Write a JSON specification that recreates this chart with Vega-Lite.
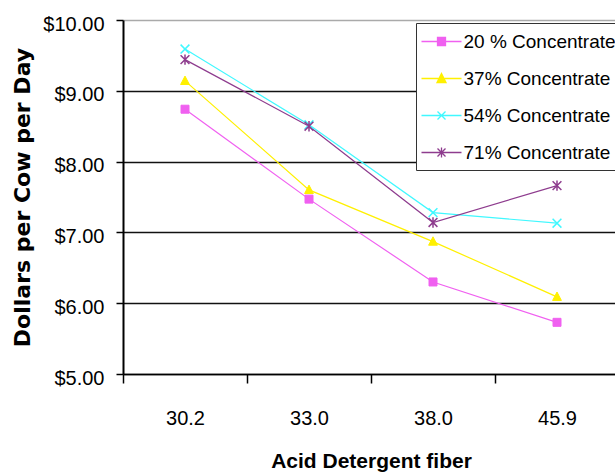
{
  "$schema": "https://vega.github.io/schema/vega-lite/v6.json",
  "width": 492,
  "height": 354,
  "autosize": "none",
  "padding": {"left": 123, "top": 20, "right": 0, "bottom": 102},
  "background": "white",
  "config": {"view": {"stroke": null}, "font": "Liberation Sans"},
  "data": {
    "values": [
      {"adf": "30.2", "conc": "20 % Concentrate", "value": 8.74},
      {"adf": "33.0", "conc": "20 % Concentrate", "value": 7.47},
      {"adf": "38.0", "conc": "20 % Concentrate", "value": 6.30},
      {"adf": "45.9", "conc": "20 % Concentrate", "value": 5.73},
      {"adf": "30.2", "conc": "37% Concentrate", "value": 9.14},
      {"adf": "33.0", "conc": "37% Concentrate", "value": 7.60},
      {"adf": "38.0", "conc": "37% Concentrate", "value": 6.87},
      {"adf": "45.9", "conc": "37% Concentrate", "value": 6.09},
      {"adf": "30.2", "conc": "54% Concentrate", "value": 9.59},
      {"adf": "33.0", "conc": "54% Concentrate", "value": 8.52},
      {"adf": "38.0", "conc": "54% Concentrate", "value": 7.28},
      {"adf": "45.9", "conc": "54% Concentrate", "value": 7.13},
      {"adf": "30.2", "conc": "71% Concentrate", "value": 9.44},
      {"adf": "33.0", "conc": "71% Concentrate", "value": 8.50},
      {"adf": "38.0", "conc": "71% Concentrate", "value": 7.14},
      {"adf": "45.9", "conc": "71% Concentrate", "value": 7.66}
    ]
  },
  "encoding": {
    "x": {
      "field": "adf", "type": "ordinal", "sort": null,
      "scale": {"type": "band", "paddingInner": 0, "paddingOuter": 0, "range": [0, 496]},
      "axis": {
        "labelAngle": 0, "labelFontSize": 20, "labelColor": "black", "labelBaseline": "alphabetic",
        "labelPadding": 41, "tickBand": "extent", "tickSize": 9, "tickColor": "black", "tickWidth": 1.5,
        "domainColor": "black", "domainWidth": 1.5, "grid": false,
        "title": "Acid Detergent fiber", "titleFontSize": 21, "titleFontWeight": "bold", "titleColor": "black",
        "titleY": 93, "titleBaseline": "alphabetic"
      }
    },
    "y": {
      "field": "value", "type": "quantitative",
      "scale": {"domain": [5, 10], "nice": false, "zero": false},
      "axis": {
        "values": [5, 6, 7, 8, 9, 10], "format": "$.2f", "labelFontSize": 20, "labelColor": "black",
        "labelBaseline": "alphabetic", "labelOffset": 10, "labelPadding": 12,
        "tickSize": 7, "tickColor": "black", "tickWidth": 1.5, "domainColor": "black", "domainWidth": 2,
        "grid": true, "gridWidth": 1.5,
        "gridColor": {"condition": {"test": "datum.value === 10", "value": "#aaaaaa"}, "value": "#111111"},
        "title": "Dollars per Cow per Day", "titleFont": "DejaVu Sans", "titleFontWeight": "bold",
        "titleFontSize": 22, "titleColor": "black", "titleX": -101, "titleY": 177, "titleAngle": 270,
        "titleAlign": "center", "titleBaseline": "middle"
      }
    }
  },
  "layer": [
    {
      "mark": {"type": "line", "strokeWidth": 1.2},
      "encoding": {
        "color": {
          "field": "conc", "type": "nominal", "sort": null,
          "scale": {
            "domain": ["20 % Concentrate", "37% Concentrate", "54% Concentrate", "71% Concentrate"],
            "range": ["#F060F0", "#FFF000", "#40F8FF", "#8E3C8E"]
          },
          "legend": {
            "orient": "none", "legendX": 293, "legendY": 3, "title": null,
            "strokeColor": "#333333", "fillColor": "white", "padding": 7.5,
            "symbolSize": 400, "symbolOffset": 7, "labelOffset": 11, "rowPadding": 16,
            "labelFontSize": 19, "labelColor": "black", "labelLimit": 300,
            "encode": {
              "symbols": {
                "update": {
                  "shape": {"signal": "datum.value === '20 % Concentrate' ? 'M-2,0L2,0M-0.4,-0.4L0.4,-0.4L0.4,0.4L-0.4,0.4Z' : datum.value === '37% Concentrate' ? 'M-2,0L2,0M0,-0.5L0.45,0.4L-0.45,0.4Z' : datum.value === '54% Concentrate' ? 'M-2,0L2,0M-0.4,-0.4L0.4,0.4M-0.4,0.4L0.4,-0.4' : 'M-2,0L2,0M-0.4,-0.4L0.4,0.4M-0.4,0.4L0.4,-0.4M0,-0.5L0,0.5'"},
                  "fill": {"scale": "color", "field": "value"},
                  "stroke": {"scale": "color", "field": "value"},
                  "strokeWidth": {"value": 1.3},
                  "opacity": {"value": 1},
                  "fillOpacity": {"value": 1},
                  "strokeOpacity": {"value": 1}
                }
              }
            }
          }
        }
      }
    },
    {
      "transform": [{"filter": "datum.conc === '20 % Concentrate'"}],
      "mark": {"type": "point", "filled": true, "opacity": 1, "fill": "#F060F0", "stroke": "#F060F0", "strokeWidth": 1, "size": 64,
               "shape": "M-1,-1L1,-1L1,1L-1,1Z"}
    },
    {
      "transform": [{"filter": "datum.conc === '37% Concentrate'"}],
      "mark": {"type": "point", "filled": true, "opacity": 1, "fill": "#FFF000", "stroke": "#FFF000", "strokeWidth": 1, "size": 64,
               "shape": "M0,-1.2L1.1,0.9L-1.1,0.9Z"}
    },
    {
      "transform": [{"filter": "datum.conc === '54% Concentrate'"}],
      "mark": {"type": "point", "filled": true, "opacity": 1, "fill": "#40F8FF", "stroke": "#40F8FF", "strokeWidth": 1.5, "size": 64,
               "shape": "M-1.1,-1.1L1.1,1.1M-1.1,1.1L1.1,-1.1"}
    },
    {
      "transform": [{"filter": "datum.conc === '71% Concentrate'"}],
      "mark": {"type": "point", "filled": true, "opacity": 1, "fill": "#8E3C8E", "stroke": "#8E3C8E", "strokeWidth": 1.5, "size": 64,
               "shape": "M-1.1,-1.1L1.1,1.1M-1.1,1.1L1.1,-1.1M0,-1.3L0,1.3"}
    }
  ]
}
